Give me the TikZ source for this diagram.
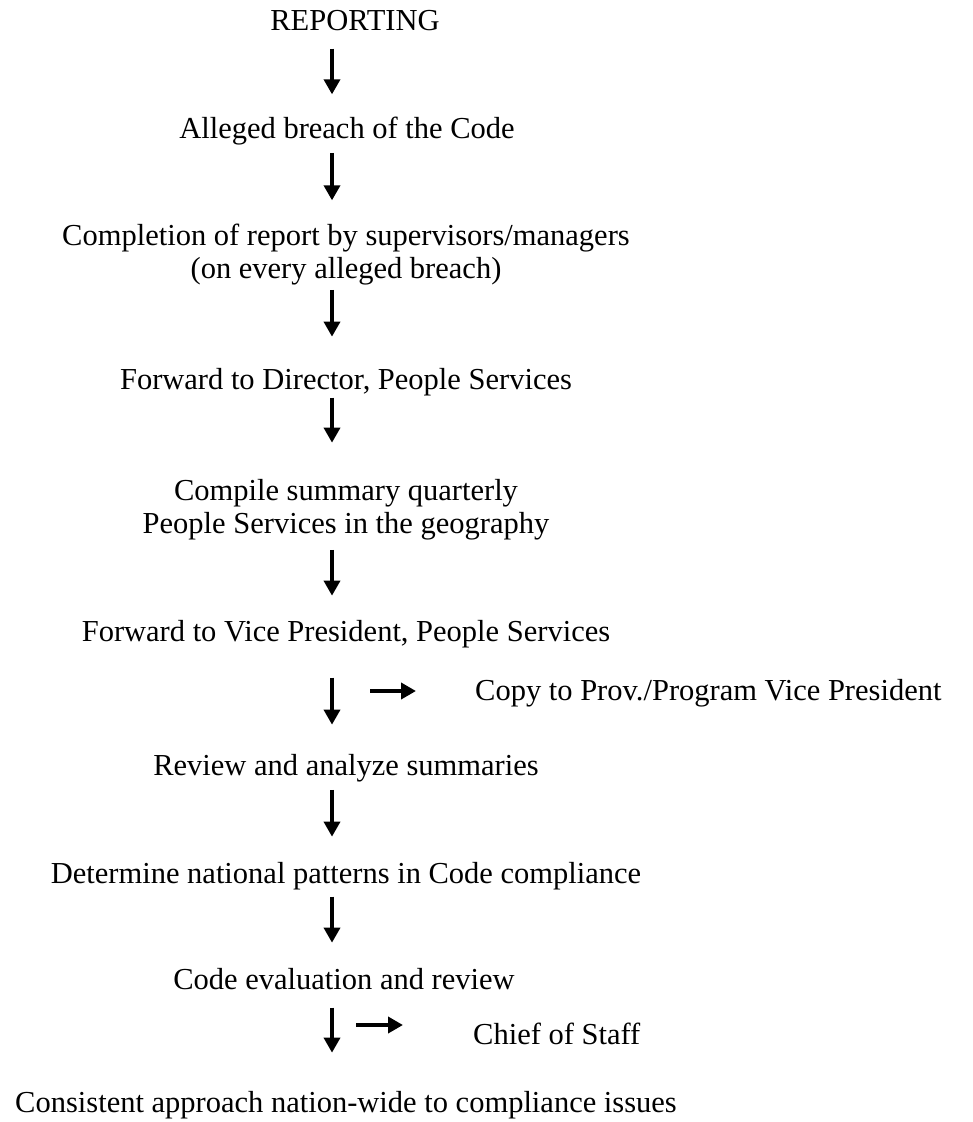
\documentclass[tikz,border=0pt]{standalone}
\usepackage{fontspec}
\setmainfont{Liberation Serif}
\usetikzlibrary{arrows.meta}
\tikzset{
  stage/.style={inner sep=0pt, align=center, anchor=base,
    font=\fontsize{30.5}{33}\selectfont},
  aside/.style={inner sep=0pt, anchor=base west,
    font=\fontsize{30.5}{33}\selectfont},
  flowarrow/.style={-{Triangle[length=15pt,width=16pt]}, line width=3.5pt,
    shorten <=8pt, shorten >=25pt},
  sidearrow/.style={-{Triangle[length=15pt,width=16pt]}, line width=4.5pt},
}

\begin{document}
\begin{tikzpicture}[x=1pt, y=-1pt]
  \useasboundingbox (0,0) rectangle (973,1122);
  \coordinate (spine) at (332,0);

  \node[stage] (rep) at (355,30) {REPORTING};
  \node[stage] (alleged) at (347,138) {Alleged breach of the Code};
  \node[stage] (compl) at (346,278)
    {Completion of report by supervisors/managers\\(on every alleged breach)};
  \node[stage] (fwddir) at (346,389) {Forward to Director, People Services};
  \node[stage] (compile) at (346,533)
    {Compile summary quarterly\\People Services in the geography};
  \node[stage] (fwdvp) at (346,641) {Forward to Vice President, People Services};
  \node[aside] (copy) at (475,700) {Copy to Prov./Program Vice President};
  \node[stage] (review) at (346,775) {Review and analyze summaries};
  \node[stage] (determ) at (346,883) {Determine national patterns in Code compliance};
  \node[stage] (codeeval) at (344,989) {Code evaluation and review};
  \node[aside] (chief) at (473,1044) {Chief of Staff};
  \node[stage] (consist) at (346,1112)
    {Consistent approach nation-wide to compliance issues};

  \coordinate (copyfrom) at (370,691);
  \coordinate (chieffrom) at (356,1025);

  % main flow
  \draw[flowarrow, shorten <=18pt, shorten >=22pt] (rep.south -| spine) -- (alleged.north -| spine);
  \draw[flowarrow, shorten >=23pt] (alleged.south -| spine) -- (compl.north -| spine);
  \draw[flowarrow, shorten <=5pt, shorten >=31pt] (compl.south -| spine) -- (fwddir.north -| spine);
  \draw[flowarrow, shorten <=2pt, shorten >=36pt] (fwddir.south -| spine) -- (compile.north -| spine);
  \draw[flowarrow, shorten <=10pt, shorten >=24pt] (compile.south -| spine) -- (fwdvp.north -| spine);
  \draw[flowarrow, shorten <=30pt, shorten >=29pt] (fwdvp.south -| spine) -- (review.north -| spine);
  \draw[flowarrow] (review.south -| spine) -- (determ.north -| spine);
  \draw[flowarrow, shorten <=7pt] (determ.south -| spine) -- (codeeval.north -| spine);
  \draw[flowarrow, shorten <=18pt, shorten >=38pt] (codeeval.south -| spine) -- (consist.north -| spine);

  % copies
  \draw[sidearrow] (copyfrom) -- ([xshift=-59pt]copyfrom -| copy.west);
  \draw[sidearrow] (chieffrom) -- ([xshift=-70pt]chieffrom -| chief.west);
\end{tikzpicture}
\end{document}
